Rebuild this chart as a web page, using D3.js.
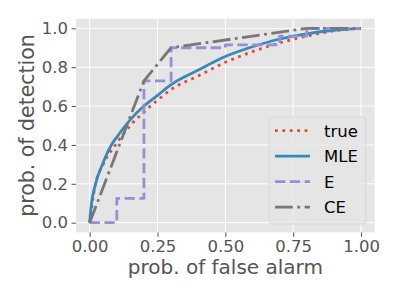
<!DOCTYPE html>
<html><head><meta charset="utf-8">
<script src="https://cdn.jsdelivr.net/npm/d3@7"></script>
<style>html,body{margin:0;padding:0;background:#fff;}svg{display:block;font-family:"DejaVu Sans",sans-serif;}</style>
</head><body>
<script>
const xTicks = [0, 0.25, 0.5, 0.75, 1.0];
const yTicks = [0, 0.2, 0.4, 0.6, 0.8, 1.0];
const xTickLabels = ["0.00","0.25","0.50","0.75","1.00"];
const yTickLabels = ["0.0","0.2","0.4","0.6","0.8","1.0"];
const seriesNames = ["true","MLE","E","CE"];
const trueX = [0,0.02,0.05,0.1,0.15,0.2,0.25,0.3,0.4,0.5,0.6,0.7,0.8,0.9,1.0];
const trueY = [0,0.19,0.30,0.41,0.50,0.57,0.63,0.685,0.755,0.825,0.88,0.925,0.96,0.987,1.0];
const mleX = [0,0.005,0.02,0.05,0.08,0.1,0.15,0.2,0.25,0.3,0.4,0.5,0.6,0.7,0.8,0.9,1.0];
const mleY = [0,0.08,0.19,0.31,0.40,0.44,0.53,0.60,0.655,0.71,0.785,0.855,0.905,0.945,0.972,0.99,1.0];
const eX = [0,0.1,0.1,0.2,0.2,0.3,0.3,0.5,0.5,0.7,0.7,0.8,0.8,1.0];
const eY = [0,0,0.125,0.125,0.73,0.73,0.9,0.9,0.915,0.915,0.96,0.96,1.0,1.0];
const ceX = [0,0.2,0.3,0.8,1.0];
const ceY = [0,0.73,0.9,1.0,1.0];

const W = 399, H = 299;
const m = {l:76.1, r:374.6, t:18.6, b:232.4};
const x = d3.scaleLinear().domain([-0.05,1.05]).range([m.l,m.r]);
const y = d3.scaleLinear().domain([-0.05,1.05]).range([m.b,m.t]);
const svg = d3.select("body").append("svg").attr("width",W).attr("height",H);
svg.append("rect").attr("x",m.l).attr("y",m.t).attr("width",m.r-m.l).attr("height",m.b-m.t).attr("fill","#E5E5E5");
// grid
svg.append("g").selectAll("line").data(xTicks).join("line")
  .attr("x1",d=>x(d)).attr("x2",d=>x(d)).attr("y1",m.t).attr("y2",m.b)
  .attr("stroke","#fff").attr("stroke-width",1);
svg.append("g").selectAll("line").data(yTicks).join("line")
  .attr("y1",d=>y(d)).attr("y2",d=>y(d)).attr("x1",m.l).attr("x2",m.r)
  .attr("stroke","#fff").attr("stroke-width",1);
// axes
const xAxis = svg.append("g").attr("transform",`translate(0,${m.b})`)
  .call(d3.axisBottom(x).tickValues(xTicks).tickFormat((d,i)=>xTickLabels[i]).tickSize(4.5).tickPadding(3));
const yAxis = svg.append("g").attr("transform",`translate(${m.l},0)`)
  .call(d3.axisLeft(y).tickValues(yTicks).tickFormat((d,i)=>yTickLabels[i]).tickSize(4.5).tickPadding(3.5));
[xAxis,yAxis].forEach(a=>{
  a.select(".domain").remove();
  a.selectAll(".tick line").attr("stroke","#555").attr("stroke-width",1);
  a.selectAll(".tick text").attr("fill","#555").style("font-size","16.5px").style("font-family","DejaVu Sans");
});
svg.append("text").attr("x",(m.l+m.r)/2).attr("y",274).attr("text-anchor","middle")
  .attr("fill","#555").style("font-size","20px").text("prob. of false alarm");
svg.append("text").attr("transform",`translate(33.5,${(m.t+m.b)/2}) rotate(-90)`).attr("text-anchor","middle")
  .attr("fill","#555").style("font-size","20.5px").text("prob. of detection");

svg.append("defs").append("clipPath").attr("id","c").append("rect")
  .attr("x",m.l).attr("y",m.t).attr("width",m.r-m.l).attr("height",m.b-m.t);
const styles = [
  {c:"#E24A33", dash:"2.8,4.6", cap:"butt", w:2.8, curve:d3.curveMonotoneX},
  {c:"#348ABD", dash:null, cap:"butt", w:2.8, curve:d3.curveMonotoneX},
  {c:"#988ED5", dash:"10.3,4.5", cap:"butt", w:2.8, curve:d3.curveLinear},
  {c:"#777777", dash:"17.8,4.5,2.8,4.5", cap:"butt", w:2.8, curve:d3.curveLinear}
];
const sets = [[trueX,trueY],[mleX,mleY],[eX,eY],[ceX,ceY]];
const g = svg.append("g").attr("clip-path","url(#c)");
sets.forEach((s,i)=>{
  const pts = s[0].map((v,k)=>[v,s[1][k]]);
  const st = styles[i];
  g.append("path").attr("d",d3.line().x(d=>x(d[0])).y(d=>y(d[1])).curve(st.curve)(pts))
    .attr("fill","none").attr("stroke",st.c).attr("stroke-width",st.w)
    .attr("stroke-dasharray",st.dash).attr("stroke-linecap",st.cap).attr("stroke-linejoin","round");
});
// legend
const lg = svg.append("g");
lg.append("rect").attr("x",269).attr("y",117).attr("width",97).attr("height",107).attr("rx",3)
  .attr("fill","#E5E5E5").attr("fill-opacity",0.8).attr("stroke","#d8d8d8").attr("stroke-width",1);
seriesNames.forEach((n,i)=>{
  const yy = 130.7 + i*25.5;
  const st = styles[i];
  lg.append("line").attr("x1",275).attr("x2",310).attr("y1",yy).attr("y2",yy)
    .attr("stroke",st.c).attr("stroke-width",st.w).attr("stroke-dasharray",st.dash).attr("stroke-linecap",st.cap);
  lg.append("text").attr("x",324).attr("y",yy).attr("dy","0.36em").attr("fill","#000")
    .style("font-size","16.5px").text(n);
});
</script>
</body></html>
